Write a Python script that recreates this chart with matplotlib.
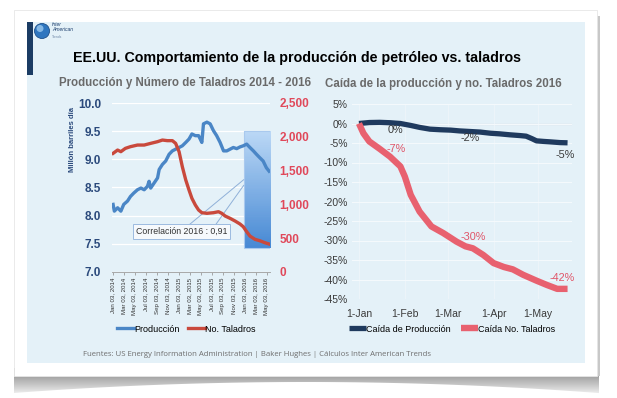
import numpy as np
import pandas as pd
import matplotlib
matplotlib.use('Agg')
import matplotlib.pyplot as plt
import matplotlib.dates as mdates
from matplotlib.patches import Rectangle, Polygon, Circle
from matplotlib.ticker import FuncFormatter

plt.rcParams['font.family'] = ['Liberation Sans', 'DejaVu Sans']

# ---------------- data ----------------
# left chart: weekly crude production (million bbl/day) and rig count
prod_dates = ['2014-01-03', '2014-01-10', '2014-01-28', '2014-02-15', '2014-03-03', '2014-03-24',
              '2014-04-09', '2014-04-27', '2014-05-18', '2014-06-06', '2014-06-24', '2014-07-12',
              '2014-07-21', '2014-07-30', '2014-08-18', '2014-09-06', '2014-09-15', '2014-10-03',
              '2014-10-21', '2014-11-09', '2014-11-27', '2014-12-15', '2015-01-03', '2015-01-21',
              '2015-02-09', '2015-02-27', '2015-03-15', '2015-04-03', '2015-04-21', '2015-04-30',
              '2015-05-09', '2015-05-18', '2015-06-06', '2015-06-24', '2015-07-12', '2015-07-30',
              '2015-08-18', '2015-09-06', '2015-09-24', '2015-10-12', '2015-10-30', '2015-11-18',
              '2015-12-06', '2015-12-24', '2016-01-12', '2016-01-30', '2016-02-18', '2016-03-06',
              '2016-03-24', '2016-04-12', '2016-04-30', '2016-05-15']
prod_vals = [8.20, 8.08, 8.14, 8.08, 8.20, 8.26, 8.34, 8.40, 8.46, 8.49, 8.46, 8.52,
             8.61, 8.49, 8.58, 8.67, 8.82, 8.91, 8.97, 9.09, 9.15, 9.18, 9.21, 9.24,
             9.30, 9.36, 9.45, 9.42, 9.42, 9.36, 9.30, 9.63, 9.66, 9.63, 9.51, 9.42,
             9.30, 9.15, 9.15, 9.18, 9.21, 9.19, 9.22, 9.24, 9.27, 9.21, 9.15, 9.09,
             9.03, 8.97, 8.85, 8.79]

rig_dates = ['2014-01-03', '2014-01-28', '2014-02-15', '2014-03-12', '2014-04-09', '2014-05-18',
             '2014-06-24', '2014-07-30', '2014-09-06', '2014-10-03', '2014-10-30', '2014-11-27',
             '2014-12-15', '2015-01-03', '2015-01-21', '2015-02-09', '2015-02-27', '2015-03-15',
             '2015-04-03', '2015-04-21', '2015-05-09', '2015-06-06', '2015-07-12', '2015-08-09',
             '2015-08-27', '2015-09-15', '2015-10-12', '2015-11-09', '2015-12-06', '2015-12-24',
             '2016-01-12', '2016-01-30', '2016-02-27', '2016-03-24', '2016-04-21', '2016-05-15']
rig_vals = [1755, 1804, 1780, 1829, 1854, 1878, 1878, 1903, 1928, 1952, 1943, 1943,
            1903, 1780, 1558, 1361, 1213, 1090, 991, 917, 877, 868, 877, 892,
            868, 828, 794, 754, 710, 670, 596, 532, 483, 463, 434, 414]

left_ticks = ['2014-01-03', '2014-03-03', '2014-05-03', '2014-07-03', '2014-09-03',
              '2014-11-03', '2015-01-03', '2015-03-03', '2015-05-03', '2015-07-03',
              '2015-09-03', '2015-11-03', '2016-01-03', '2016-03-03', '2016-05-03']
highlight_span = ('2015-12-27', '2016-05-24')
highlight_y = (7.43, 9.5)
corr_text = 'Correlación 2016 : 0,91'

# right chart: % change since 1-Jan-2016
chg_prod_dates = ['2016-01-01', '2016-01-08', '2016-01-15', '2016-01-22', '2016-01-29', '2016-02-05',
                  '2016-02-11', '2016-02-18', '2016-02-25', '2016-03-03', '2016-03-09', '2016-03-16',
                  '2016-03-23', '2016-03-30', '2016-04-05', '2016-04-12', '2016-04-19', '2016-04-23',
                  '2016-04-27', '2016-04-30', '2016-05-05', '2016-05-09', '2016-05-16', '2016-05-21']
chg_prod_vals = [0, 0.25, 0.3, 0.2, 0, -0.5, -1.0, -1.45, -1.6, -1.7, -1.9, -2.05,
                 -2.2, -2.5, -2.65, -2.9, -3.1, -3.25, -3.9, -4.45, -4.6, -4.7, -4.9, -4.95]

chg_rig_dates = ['2016-01-01', '2016-01-04', '2016-01-08', '2016-01-15', '2016-01-22', '2016-01-29',
                 '2016-02-01', '2016-02-05', '2016-02-11', '2016-02-19', '2016-02-27', '2016-03-07',
                 '2016-03-13', '2016-03-18', '2016-03-25', '2016-04-01', '2016-04-08', '2016-04-14',
                 '2016-04-21', '2016-04-30', '2016-05-07', '2016-05-14', '2016-05-21']
chg_rig_vals = [0, -2.5, -4.6, -6.5, -8.5, -11.0, -13.6, -18.3, -22.6, -26.4, -28.1, -30.3,
                -31.5, -32.0, -33.7, -35.8, -36.8, -37.4, -38.8, -40.3, -41.4, -42.4, -42.4]

right_ticks = ['2016-01-01', '2016-02-01', '2016-03-01', '2016-04-01', '2016-05-01']

# value labels: (text, index into series, offset in points)
prod_labels = [('0%', 4, (-3.5, -5)), ('-2%', 11, (0, -5)), ('-5%', 23, (-1.5, -9))]
rig_labels = [('-7%', 3, (12, 0)), ('-30%', 11, (12, 3.5)), ('-42%', 22, (-4, 7.5))]

# colours
c_prod = '#4a86c6'
c_rig = '#c9493c'
c_navy = '#1f3a5e'
c_pink = '#e8616f'
c_panel = '#e4f1f8'

W, H = 617, 398
fig = plt.figure(figsize=(W / 100, H / 100), dpi=100)
fig.patch.set_facecolor('white')


def fbox(x0, y0, x1, y1):
    """pixel box (top-left origin) -> figure fraction rect"""
    return [x0 / W, 1 - y1 / H, (x1 - x0) / W, (y1 - y0) / H]


# ---------------- slide background ----------------
bg = fig.add_axes([0, 0, 1, 1])
bg.set_xlim(0, W)
bg.set_ylim(H, 0)
bg.axis('off')

# drop shadow under the card
xs = np.linspace(14, 599, 60)
ys = 382 + 11 * ((xs - 306) / 292) ** 2
shadow = Polygon(np.vstack([np.column_stack([xs, ys]), [[599, 368], [14, 368]]]),
                 closed=True, facecolor='none', edgecolor='none')
bg.add_patch(shadow)
grad = np.linspace(0.5, 0.95, 40).reshape(-1, 1)
im = bg.imshow(grad, extent=[14, 599, 395, 368], cmap='gray', vmin=0, vmax=1,
               aspect='auto', zorder=1)
im.set_clip_path(shadow)
bg.add_patch(Rectangle((596, 16), 4, 360, facecolor='#c8c8c8', edgecolor='none', zorder=1))

bg.add_patch(Rectangle((14, 10), 583, 366, facecolor='white', edgecolor='#e6e6e6',
                       lw=0.6, zorder=2))
bg.add_patch(Rectangle((27, 22), 558, 341, facecolor=c_panel, edgecolor='none', zorder=3))
bg.add_patch(Rectangle((27, 22), 6, 53, facecolor='#1b3c64', edgecolor='none', zorder=4))

# logo
bg.add_patch(Circle((42, 31), 7.5, facecolor='#2f76bf', edgecolor='#1d4f8a', lw=0.6, zorder=5))
bg.add_patch(Circle((40, 28.5), 3.5, facecolor='#9cc9ef', edgecolor='none', alpha=0.8, zorder=5))
bg.text(52, 27, 'Inter\nAmerican', fontsize=3.6, style='italic', color='#1d3f6e',
        va='center', ha='left', linespacing=0.9, zorder=5)
bg.text(52, 36.5, 'Trends', fontsize=2.4, color='#6d86a6', va='center', ha='left', zorder=5)

# titles
bg.text(73, 58, 'EE.UU. Comportamiento de la producción de petróleo vs. taladros',
        fontsize=10.3, fontweight='bold', color='black', va='center', ha='left', zorder=5)
bg.text(185, 83, 'Producción y Número de Taladros 2014 - 2016', fontsize=8.3,
        fontweight='bold', color='#6a6a6a', va='center', ha='center', zorder=5)
bg.text(443, 84, 'Caída de la producción y no. Taladros 2016', fontsize=8.3,
        fontweight='bold', color='#6a6a6a', va='center', ha='center', zorder=5)
bg.text(73, 140, 'Millón barriles día', rotation=90, fontsize=5.5, fontweight='bold',
        color='#2b4a7c', va='center', ha='center', zorder=5)
bg.text(83, 355, 'Fuentes: US Energy Information Administration | Baker Hughes | '
        'Cálculos Inter American Trends', family=['Open Sans', 'DejaVu Sans'],
        fontsize=5.6, color='#6e6e6e', va='center', ha='left', zorder=5)

# ---------------- left chart ----------------
ax1 = fig.add_axes(fbox(112, 103, 270, 272))
ax1.set_facecolor('none')
ax2 = ax1.twinx()

pdates = pd.to_datetime(prod_dates)
rdates = pd.to_datetime(rig_dates)

# highlighted 2016 block (gradient, light on top)
hx0, hx1 = [mdates.date2num(pd.Timestamp(d)) for d in highlight_span]
block = np.linspace(0, 1, 50).reshape(-1, 1)
ax1.imshow(block, extent=[hx0, hx1, highlight_y[0], highlight_y[1]], origin='upper',
           cmap=matplotlib.colors.LinearSegmentedColormap.from_list('hl', ['#b9d7f6', '#3f84d3']),
           aspect='auto', zorder=1, alpha=0.95)
ax1.add_patch(Rectangle((hx0, highlight_y[0]), hx1 - hx0, highlight_y[1] - highlight_y[0],
                        facecolor='none', edgecolor='#a9c9ee', lw=0.8, zorder=1.5))

l1, = ax1.plot(pdates, prod_vals, color=c_prod, lw=2.4, zorder=3, label='Producción')
l2, = ax2.plot(rdates, rig_vals, color=c_rig, lw=2.4, zorder=3, label='No. Taladros')

ax1.set_xlim(pd.Timestamp('2013-12-28'), pd.Timestamp('2016-05-20'))
ax1.set_ylim(7.0, 10.0)
ax2.set_ylim(0, 2500)
ax1.set_yticks(np.arange(7.0, 10.01, 0.5))
ax2.set_yticks(np.arange(0, 2501, 500))
ax1.yaxis.set_major_formatter(FuncFormatter(lambda v, _: f'{v:.1f}'))
ax2.yaxis.set_major_formatter(FuncFormatter(lambda v, _: f'{v:,.0f}'))
ax1.grid(axis='y', color='white', lw=0.9)
ax1.set_axisbelow(True)

ax1.set_xticks(pd.to_datetime(left_ticks))
ax1.xaxis.set_major_formatter(mdates.DateFormatter('%b %d, %Y'))
for lab in ax1.get_xticklabels():
    lab.set_rotation(90)
ax1.tick_params(axis='x', labelsize=4.4, colors='#9a9a9a', labelcolor='#333333',
                length=2.5, width=0.6, pad=1.5)
ax1.tick_params(axis='y', length=0, labelsize=8.5, labelcolor='#2b4a7c', pad=8)
ax2.tick_params(axis='y', length=0, labelsize=8.5, labelcolor='#e0485a', pad=7)
for lab in ax1.get_yticklabels() + ax2.get_yticklabels():
    lab.set_fontweight('bold')
for sp in ['top', 'left', 'right']:
    ax1.spines[sp].set_visible(False)
    ax2.spines[sp].set_visible(False)
ax2.spines['bottom'].set_visible(False)
ax1.spines['bottom'].set_color('#a8a8a8')
ax1.spines['bottom'].set_linewidth(0.7)

# correlation note with two leader lines to the 2016 block
ax1.text(pd.Timestamp('2015-01-16'), 7.72, corr_text, fontsize=6.3, color='#333333',
         ha='center', va='center', zorder=6,
         bbox=dict(boxstyle='square,pad=0.35', fc='#f6f9fc', ec='#9cbbe0', lw=0.7))
for start, end in [(('2015-02-21', 7.82), ('2015-12-27', 8.64)),
                   (('2015-07-20', 7.82), ('2015-12-27', 8.54))]:
    ax1.annotate('', xy=(pd.Timestamp(end[0]), end[1]),
                 xytext=(pd.Timestamp(start[0]), start[1]),
                 arrowprops=dict(arrowstyle='-', color='#8fb0d8', lw=0.7,
                                 shrinkA=0, shrinkB=0), zorder=5)

fig.legend(handles=[l1, l2], loc='center', bbox_to_anchor=(186 / W, 1 - 329 / H),
           ncol=2, frameon=False, fontsize=6.5, handlelength=1.9, handletextpad=0.0,
           columnspacing=0.9)

# ---------------- right chart ----------------
ax3 = fig.add_axes(fbox(352, 104, 572, 299))
ax3.set_facecolor('none')
jan1 = mdates.date2num(pd.Timestamp('2016-01-01'))
ax3.set_xlim(jan1 - 4.7, jan1 + 144)
ax3.set_ylim(-45, 5)
ax3.set_yticks(np.arange(-45, 6, 5))
ax3.yaxis.set_major_formatter(FuncFormatter(lambda v, _: f'{v:.0f}%'))
ax3.set_xticks(pd.to_datetime(right_ticks))
ax3.xaxis.set_major_formatter(FuncFormatter(
    lambda v, _: '1-' + mdates.num2date(v).strftime('%b')))
ax3.grid(axis='y', color='#f4f9fc', lw=0.8)
ax3.grid(axis='x', color='#eef5fa', lw=0.6)
ax3.axhline(0, color='#b4b8bc', lw=0.8, zorder=1)
ax3.tick_params(length=0, labelsize=7.5, labelcolor='#3a3a3a')
ax3.tick_params(axis='x', pad=7)
ax3.tick_params(axis='y', pad=3)
for sp in ax3.spines.values():
    sp.set_visible(False)

cpd = pd.to_datetime(chg_prod_dates)
crd = pd.to_datetime(chg_rig_dates)
l3, = ax3.plot(cpd, chg_prod_vals, color=c_navy, lw=3.8, zorder=3,
               solid_capstyle='butt', label='Caída de Producción')
l4, = ax3.plot(crd, chg_rig_vals, color=c_pink, lw=4.6, zorder=3,
               solid_capstyle='butt', label='Caída No. Taladros')

for txt, i, off in prod_labels:
    ax3.annotate(txt, xy=(cpd[i], chg_prod_vals[i]), xytext=off, textcoords='offset points',
                 ha='center', va='center', fontsize=7.8, color='#3a3a3a', zorder=4)
for txt, i, off in rig_labels:
    ax3.annotate(txt, xy=(crd[i], chg_rig_vals[i]), xytext=off, textcoords='offset points',
                 ha='center', va='center', fontsize=7.8, color='#e05468', zorder=4)

fig.legend(handles=[l3, l4], loc='center', bbox_to_anchor=(452 / W, 1 - 329 / H),
           ncol=2, frameon=False, fontsize=6.5, handlelength=1.9, handletextpad=0.0,
           columnspacing=1.1)

fig.savefig('out.png', dpi=100)
